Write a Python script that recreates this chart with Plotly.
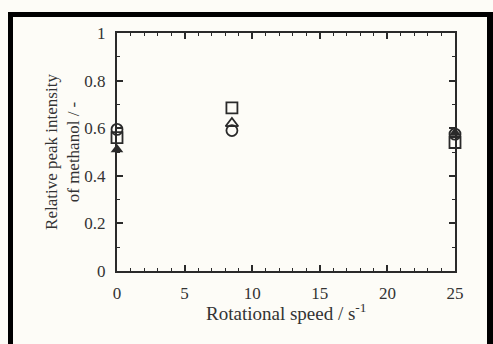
import plotly.graph_objects as go

# Rotational speed (s^-1) and relative peak intensity of methanol
speed = [0, 8.5, 25]
circle_vals = [0.595, 0.59, 0.575]
square_vals = [0.56, 0.685, 0.54]
tri_open_speed = [8.5]
tri_open_vals = [0.62]
tri_fill_speed = [0, 25]
tri_fill_vals = [0.51, 0.58]

x_ticks = [0, 5, 10, 15, 20, 25]
y_ticks = [0, 0.2, 0.4, 0.6, 0.8, 1]
y_tick_text = ["0", "0.2", "0.4", "0.6", "0.8", "1"]

W, H = 493, 344
L, R, T, B = 117, 455, 33, 271  # plot area in pixels

FONT = "Liberation Serif, Times New Roman, serif"
INK = "#2a2a2a"

fig = go.Figure()
open_marker = dict(size=11, color=INK, line=dict(width=1.8, color=INK))
fig.add_trace(go.Scatter(x=speed, y=square_vals, mode="markers",
                         marker=dict(symbol="square-open", **open_marker), cliponaxis=False))
fig.add_trace(go.Scatter(x=speed, y=circle_vals, mode="markers",
                         marker=dict(symbol="circle-open", **open_marker), cliponaxis=False))
fig.add_trace(go.Scatter(x=tri_open_speed, y=tri_open_vals, mode="markers",
                         marker=dict(symbol="triangle-up-open", **open_marker), cliponaxis=False))
fig.add_trace(go.Scatter(x=tri_fill_speed, y=tri_fill_vals, mode="markers",
                         marker=dict(symbol="triangle-up", size=11, color=INK),
                         cliponaxis=False))


def px_x(x):
    return (x - L) / (R - L)


def px_y(y):
    return (B - y) / (B - T)


# dark frame around the figure (top, left and right edges)
frame = [(8, 12, 493, 17), (8, 12, 13, 344), (487, 12, 493, 344)]
shapes = [dict(type="rect", xref="paper", yref="paper",
               x0=px_x(a), x1=px_x(c), y0=px_y(d), y1=px_y(b),
               fillcolor="black", line=dict(width=0), layer="above")
          for a, b, c, d in frame]

axis_common = dict(showline=True, linecolor=INK, linewidth=2, mirror="ticks",
                   ticks="inside", ticklen=6, tickwidth=1.5, tickcolor=INK,
                   showgrid=False, zeroline=False,
                   tickfont=dict(family=FONT, size=17, color="#333"))

fig.update_layout(
    width=W, height=H,
    margin=dict(l=L, r=W - R, t=T, b=H - B, pad=0),
    paper_bgcolor="#fdfcf7", plot_bgcolor="rgba(0,0,0,0)",
    showlegend=False,
    shapes=shapes,
    annotations=[dict(text="Rotational speed / s<sup>-1</sup>", xref="paper", yref="paper",
                      x=0.5, y=px_y(312), xanchor="center", yanchor="middle",
                      showarrow=False, font=dict(family=FONT, size=19, color="#333"))],
    xaxis=dict(range=[0, 25], tickvals=x_ticks, ticklabelstandoff=6,
               minor=dict(dtick=1, ticklen=3, tickwidth=1.3, tickcolor=INK, ticks="inside"),
               **axis_common),
    yaxis=dict(range=[0, 1], tickvals=y_ticks, ticktext=y_tick_text, ticklabelstandoff=6,
               minor=dict(dtick=0.1, ticklen=3, tickwidth=1.3, tickcolor=INK, ticks="inside"),
               title=dict(text="Relative peak intensity<br>of methanol / -", standoff=0,
                          font=dict(family=FONT, size=17, color="#333")),
               **axis_common),
)

fig.write_html("out.html")
